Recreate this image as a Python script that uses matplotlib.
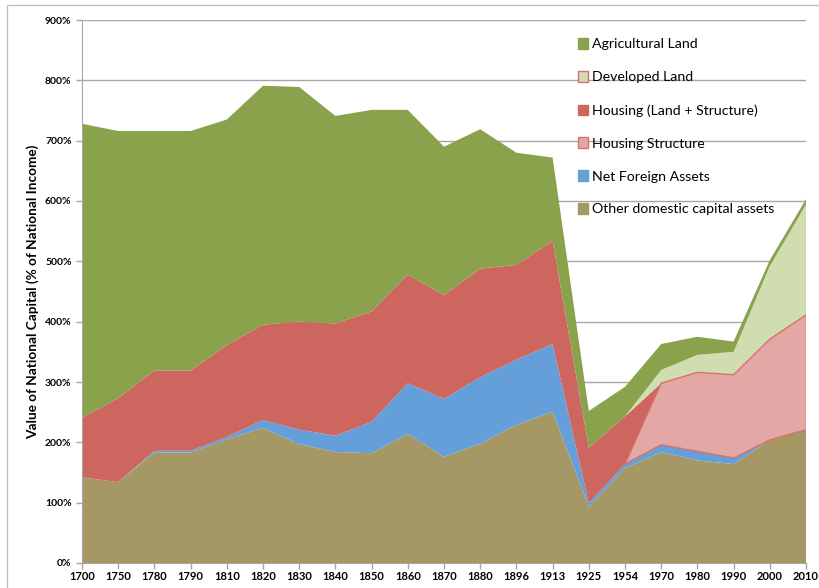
import matplotlib
matplotlib.use("Agg")
import matplotlib.pyplot as plt
import numpy as np
from matplotlib.patches import Patch, Rectangle
from matplotlib.ticker import FuncFormatter, MultipleLocator

plt.rcParams['font.family'] = ['Lato', 'DejaVu Sans']

#**************** Data (% of national income) ****************
years = [1700, 1750, 1780, 1790, 1810, 1820, 1830, 1840, 1850, 1860, 1870,
         1880, 1896, 1913, 1925, 1954, 1970, 1980, 1990, 2000, 2010]

other_domestic = [142, 134, 183, 183, 205, 224, 197, 184, 182, 214, 176,
                  198, 229, 251, 93, 157, 184, 170, 164, 204, 221]
net_foreign = [0, 0, 3, 3, 4, 13, 24, 27, 52, 84, 96,
               110, 108, 112, 6, 7, 12, 15, 10, 0, 0]
housing_structure = [0, 0, 0, 0, 0, 0, 0, 0, 0, 0, 0,
                     0, 0, 0, 0, 0, 102, 131, 138, 167, 190]
housing = [99, 139, 133, 133, 152, 158, 179, 186, 183, 180, 172,
           180, 157, 171, 92, 79, 0, 0, 0, 0, 0]
developed_land = [0, 0, 0, 0, 0, 0, 0, 0, 0, 0, 0,
                  0, 0, 0, 0, 0, 22, 29, 38, 121, 183]
agricultural_land = [487, 443, 397, 397, 374, 396, 389, 344, 334, 273, 246,
                     231, 186, 138, 61, 49, 43, 30, 17, 10, 9]

labels = ["Other domestic capital assets", "Net Foreign Assets", "Housing Structure",
          "Housing (Land + Structure)", "Developed Land", "Agricultural Land"]
colors = ["#a59865", "#659fd9", "#e3a7a5", "#cd665e", "#cfddb0", "#8aa24c"]
edges = [None, None, "#d9706a", None, "#d9706a", None]

#************************************************************

fig = plt.figure(figsize=(8.19, 5.88), dpi=100)
ax = fig.add_axes([82/819, 1-563/588, (806-82)/819, (563-20)/588])

x = list(range(len(years)))
ax.stackplot(x, other_domestic, net_foreign, housing_structure, housing,
             developed_land, agricultural_land, colors=colors, zorder=2)

# red outline of the housing structure band, only where it exists
start = years.index(1954)
bottom = np.array(other_domestic) + np.array(net_foreign)
top = bottom + np.array(housing_structure)
ax.plot(x[start:], bottom[start:], color="#d9706a", lw=1.0, zorder=3)
ax.plot(x[start:], top[start:], color="#d9706a", lw=1.0, zorder=3)
ax.plot([x[-1], x[-1]], [bottom[-1], top[-1]], color="#d9706a", lw=1.0, zorder=3)

ax.set_xlim(0, len(years)-1)
ax.set_ylim(0, 900)
ax.set_xticks(x)
ax.set_xticklabels([str(y) for y in years], fontsize=8, fontweight='bold')
ax.yaxis.set_major_locator(MultipleLocator(100))
ax.yaxis.set_major_formatter(FuncFormatter(lambda v, p: "%d%%" % v))
for t in ax.get_yticklabels():
    t.set_fontsize(7.5)
    t.set_fontweight('bold')

ax.grid(axis='y', color='#a6a6a6', linewidth=1.0, zorder=0)
ax.set_axisbelow(True)
for s in ['top', 'right']:
    ax.spines[s].set_visible(False)
for s in ['left', 'bottom']:
    ax.spines[s].set_color('#a6a6a6')
    ax.spines[s].set_zorder(3)
ax.tick_params(axis='both', colors='#a6a6a6', labelcolor='black', length=4, width=1)
ax.tick_params(axis='x', pad=2)

ax.set_ylabel("Value of National Capital (% of National Income)",
              fontsize=9.8, fontweight='bold', labelpad=4)

# Legend in reverse stacking order
handles = []
for c, e, l in zip(colors, edges, labels):
    handles.append(Patch(facecolor=c, edgecolor=e if e else c, linewidth=1.0, label=l))
ax.legend(handles[::-1], labels[::-1], loc='upper left', bbox_to_anchor=(0.667, 0.99),
          frameon=False, fontsize=10.2, labelspacing=1.47, handlelength=0.75,
          handleheight=0.75, handletextpad=0.25)

# outer chart border
fig.patches.append(Rectangle((7/819, -0.05), 1.2, 1-5/588+0.05, transform=fig.transFigure,
                             fill=False, edgecolor='#bfbfbf', linewidth=1.0))

fig.savefig("out.png", dpi=100)
